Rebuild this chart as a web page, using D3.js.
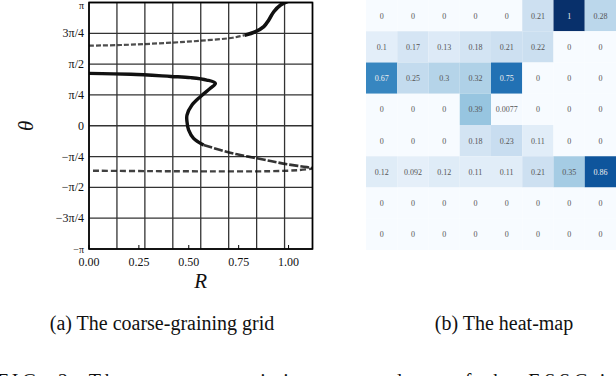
<!DOCTYPE html>
<meta charset="utf-8">
<style>
body { margin: 0; background: #fff; }
svg { display: block; }
.grid line { stroke: #333; stroke-width: 1.3px; }
.tick-label { font: 12px "Liberation Serif", serif; fill: #111; }
.axis-title { font: italic 21px "Liberation Serif", serif; fill: #111; }
.cell text { font: 8px "Liberation Serif", serif; }
.caption { font: 20px "Liberation Serif", serif; fill: #111; }
.branch { fill: none; stroke: #111; stroke-linecap: butt; }
</style>
<body>
<script src="https://d3js.org/d3.v7.min.js"></script>
<script>

const width = 616;
const height = 376;

// coarse-graining bins
const rBins = [0, 0.14, 0.28, 0.42, 0.56, 0.70, 0.84, 0.98, 1.12];
const thetaBins = [-1, -0.75, -0.5, -0.25, 0, 0.25, 0.5, 0.75, 1]; // units of pi
const rTicks = [0, 0.25, 0.5, 0.75, 1.0];
const thetaTickLabels = ["\u2212\u03c0", "\u22123\u03c0/4", "\u2212\u03c0/2", "\u2212\u03c0/4", "0",
                         "\u03c0/4", "\u03c0/2", "3\u03c0/4", "\u03c0"];

// branches of the attractor, [R, theta/pi]
const upperFlat = [[0, 0.650], [0.16, 0.655], [0.39, 0.672], [0.56, 0.690], [0.72, 0.714], [0.78, 0.735]];
const upperRise = [[0.78, 0.735], [0.834, 0.763], [0.876, 0.804], [0.901, 0.858],
                   [0.926, 0.925], [0.960, 0.980], [1.0, 1.012]];
const middleFold = [[0, 0.425], [0.21, 0.418], [0.41, 0.400], [0.51, 0.390], [0.59, 0.371],
                    [0.633, 0.344], [0.608, 0.304], [0.558, 0.236], [0.516, 0.168],
                    [0.491, 0.087], [0.491, 0.033], [0.499, -0.034], [0.524, -0.102], [0.574, -0.156]];
const middleTail = [[0.574, -0.156], [0.658, -0.197], [0.742, -0.232], [0.826, -0.259],
                    [0.910, -0.286], [0.993, -0.313], [1.077, -0.332], [1.12, -0.343]];
const lowerFlat = [[0.02, -0.365], [0.3, -0.368], [0.6, -0.370], [0.9, -0.369], [1.05, -0.360], [1.12, -0.348]];

// heat-map, rows from theta = pi down to -pi
const heat = [
  [0, 0, 0, 0, 0, 0.21, 1, 0.28],
  [0.1, 0.17, 0.13, 0.18, 0.21, 0.22, 0, 0],
  [0.67, 0.25, 0.3, 0.32, 0.75, 0, 0, 0],
  [0, 0, 0, 0.39, 0.0077, 0, 0, 0],
  [0, 0, 0, 0.18, 0.23, 0.11, 0, 0],
  [0.12, 0.092, 0.12, 0.11, 0.11, 0.21, 0.35, 0.86],
  [0, 0, 0, 0, 0, 0, 0, 0],
  [0, 0, 0, 0, 0, 0, 0, 0]
];

const captions = ["(a) The coarse-graining grid", "(b) The heat-map"];
const figCaption = "FIG. 2. The coarse-graining procedure of the ESSC in";

const svg = d3.select("body").append("svg")
    .attr("width", width)
    .attr("height", height);

const x = d3.scaleLinear().domain([0, 1.12]).range([89, 312.5]);
const y = d3.scaleLinear().domain([-Math.PI, Math.PI]).range([249, 2.5]);

svg.append("defs").append("clipPath").attr("id", "plot-clip")
  .append("rect")
    .attr("x", x(0)).attr("y", y(Math.PI))
    .attr("width", x(1.12) - x(0)).attr("height", y(-Math.PI) - y(Math.PI));

// grid
const grid = svg.append("g").attr("class", "grid");
grid.selectAll(".v").data(rBins).enter().append("line")
    .attr("x1", d => x(d)).attr("x2", d => x(d))
    .attr("y1", y(Math.PI)).attr("y2", y(-Math.PI));
grid.selectAll(".h").data(thetaBins).enter().append("line")
    .attr("x1", x(0)).attr("x2", x(1.12))
    .attr("y1", d => y(d * Math.PI)).attr("y2", d => y(d * Math.PI));

// branches
const line = d3.line()
    .x(d => x(d[0]))
    .y(d => y(d[1] * Math.PI))
    .curve(d3.curveCatmullRom.alpha(0.5));

const plot = svg.append("g").attr("clip-path", "url(#plot-clip)");
const branches = [
  {pts: upperFlat, w: 2.2, dash: "5,2", op: 0.75},
  {pts: upperRise, w: 3.6, dash: null, op: 1},
  {pts: middleFold, w: 3.4, dash: null, op: 1},
  {pts: middleTail, w: 2.6, dash: "9,2", op: 0.85},
  {pts: lowerFlat, w: 2.4, dash: "6,3", op: 0.8}
];
plot.selectAll(".branch").data(branches).enter().append("path")
    .attr("class", "branch")
    .attr("d", d => line(d.pts))
    .attr("stroke-width", d => d.w)
    .attr("stroke-opacity", d => d.op)
    .attr("stroke-dasharray", d => d.dash);

// frame
svg.append("rect")
    .attr("x", x(0)).attr("y", y(Math.PI))
    .attr("width", x(1.12) - x(0)).attr("height", y(-Math.PI) - y(Math.PI))
    .attr("fill", "none").attr("stroke", "#000").attr("stroke-width", 1.6);

// x ticks
svg.selectAll(".xtick").data(rTicks).enter().append("line")
    .attr("x1", d => x(d)).attr("x2", d => x(d))
    .attr("y1", y(-Math.PI)).attr("y2", y(-Math.PI) - 4)
    .attr("stroke", "#000").attr("stroke-width", 1);
svg.selectAll(".xlab").data(rTicks).enter().append("text")
    .attr("class", "tick-label")
    .attr("x", d => x(d)).attr("y", 266)
    .attr("text-anchor", "middle")
    .text(d => d3.format(".2f")(d));

// y tick labels
svg.selectAll(".ylab").data(thetaBins).enter().append("text")
    .attr("class", "tick-label")
    .attr("x", 84)
    .attr("y", d => d === 1 ? 9 : y(d * Math.PI) + 4)
    .attr("text-anchor", "end")
    .style("font-size", d => Math.abs(d) === 1 ? "10px" : null)
    .text((d, i) => thetaTickLabels[i]);

svg.append("text").attr("class", "axis-title")
    .attr("x", x(0.56)).attr("y", 288)
    .attr("text-anchor", "middle").text("R");
svg.append("text").attr("class", "axis-title")
    .attr("transform", `translate(33,${y(0)}) rotate(-90)`)
    .attr("text-anchor", "middle").text("\u03b8");

// heat-map
const hx = d3.scaleBand().domain(d3.range(8)).range([366, 616]);
const hy = d3.scaleBand().domain(d3.range(8)).range([0, 250]);
const color = d3.scaleSequential(d3.interpolateBlues).domain([0, 1]);

const cells = svg.selectAll(".cell")
    .data(heat.flatMap((row, r) => row.map((v, c) => ({r, c, v}))))
  .enter().append("g")
    .attr("class", "cell");
cells.append("rect")
    .attr("x", d => hx(d.c)).attr("y", d => hy(d.r))
    .attr("width", hx.bandwidth()).attr("height", hy.bandwidth())
    .attr("fill", d => color(d.v));
cells.append("text")
    .attr("x", d => hx(d.c) + hx.bandwidth() / 2)
    .attr("y", d => hy(d.r) + hy.bandwidth() / 2 + 3)
    .attr("text-anchor", "middle")
    .attr("fill", d => d.v > 0.6 ? "#f0f0f0" : "#555")
    .text(d => d.v);

// captions
svg.selectAll(".caption").data(captions).enter().append("text")
    .attr("class", "caption")
    .attr("x", (d, i) => i === 0 ? 162 : 504)
    .attr("y", 330)
    .attr("text-anchor", "middle")
    .text(d => d);

svg.append("text").attr("class", "caption")
    .attr("x", -3).attr("y", 388)
    .attr("textLength", 622)
    .style("font-size", "20px")
    .text(figCaption);

</script>
</body>
